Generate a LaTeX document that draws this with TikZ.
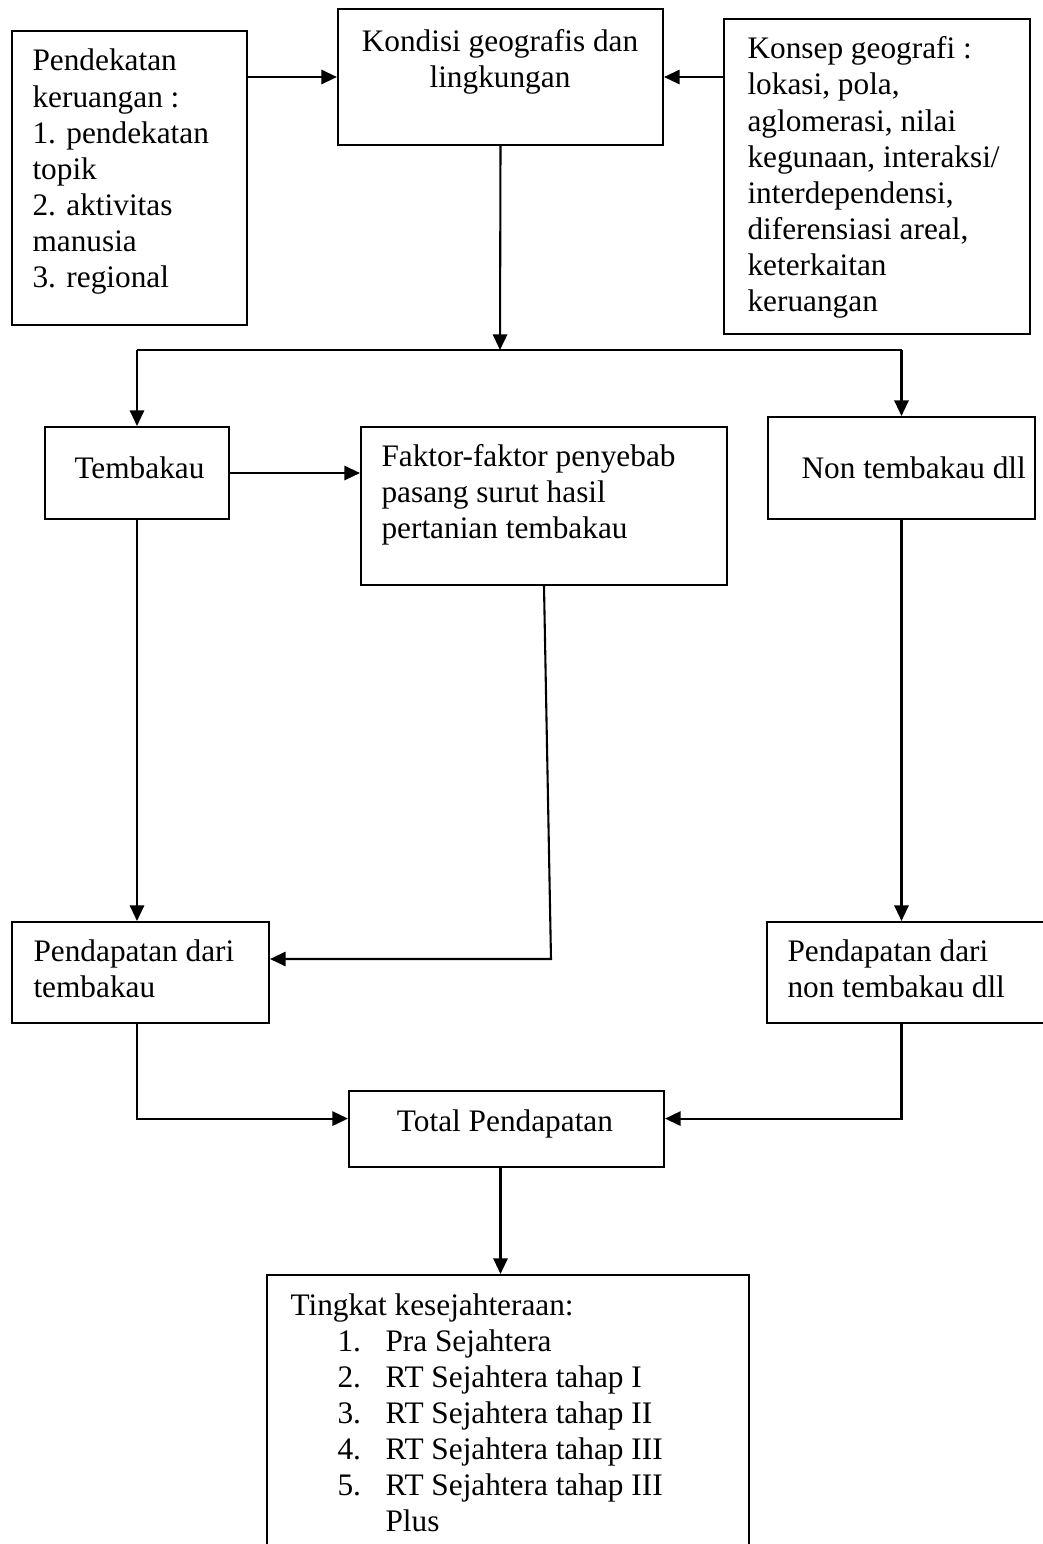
\documentclass[tikz,border=0pt]{standalone}
\usepackage{fontspec}
\setmainfont{Liberation Serif}
\usetikzlibrary{arrows.meta,fit}

\tikzset{
  box/.style={draw, line width=0.8pt, inner sep=0pt},
  txt/.style={anchor=base west, inner sep=0pt, align=left},
  arr/.style={line width=0.8pt, -{Triangle[length=6pt,width=5.5pt]}}
}

\begin{document}
\begin{tikzpicture}[x=0.3833pt, y=-0.3833pt, font=\fontsize{12}{13.8}\selectfont]
        \useasboundingbox (0,0) rectangle (1043,1544);
        \clip (0,0) rectangle (1043,1544);

        % boxes
        \node[box, fit={(12,31) (247,325)}] (pend) {};
        \node[box, fit={(338,9) (663,145)}] (kond) {};
        \node[box, fit={(724,19) (1030,334)}] (kons) {};

        \node[box, fit={(45,427) (229,519)}] (tem) {};
        \node[box, fit={(361,427) (727,585)}] (fak) {};
        \node[box, fit={(768,417) (1035,519)}] (non) {};

        \node[box, fit={(12,922) (269,1023)}] (pdt) {};
        \node[box, fit={(767,922) (1050,1023)}] (pdn) {};

        \node[box, fit={(349,1091) (664,1167)}] (tot) {};
        \node[box, fit={(267,1275) (749,1560)}] (ting) {};

        % texts (base = last line)
        \node[txt] (pend-t) at (32,287) {Pendekatan\\keruangan :\\1. pendekatan\\topik\\2. aktivitas\\manusia\\3. regional};
        \node[txt, align=center, anchor=base] (kond-t) at (500,87) {Kondisi geografis dan\\lingkungan};
        \node[txt] (kons-t) at (747,311) {Konsep geografi :\\lokasi, pola,\\aglomerasi, nilai\\kegunaan, interaksi/\\interdependensi,\\diferensiasi areal,\\keterkaitan\\keruangan};

        \node[txt] (tem-t) at (74,478) {Tembakau};
        \node[txt] (fak-t) at (381,538) {Faktor-faktor penyebab\\pasang surut hasil\\pertanian tembakau};
        \node[txt] (non-t) at (801,478) {Non tembakau dll};

        \node[txt] (pdt-t) at (33,997) {Pendapatan dari\\tembakau};
        \node[txt] (pdn-t) at (787,997) {Pendapatan dari\\non tembakau dll};

        \node[txt, anchor=base] (tot-t) at (505,1131) {Total Pendapatan};

        \node[txt] (ting-t) at (290,1315) {Tingkat kesejahteraan:};
        \node[txt] (ting-n) at (337,1495) {1.\\2.\\3.\\4.\\5.};
        \node[txt] (ting-i) at (385,1531) {Pra Sejahtera\\RT Sejahtera tahap I\\RT Sejahtera tahap II\\RT Sejahtera tahap III\\RT Sejahtera tahap III\\Plus};

        % connectors
        \coordinate (split) at (500,350);
        \coordinate (bend) at (551,959);

        \draw[arr] (pend.east |- kond.west) -- (kond.west);
        \draw[arr] (kons.west |- kond.east) -- (kond.east);
        \draw[arr] (kond.south) -- (split);
        \draw[line width=0.8pt] (tem.north |- split) -- (non.north |- split);
        \draw[arr] (tem.north |- split) -- (tem.north);
        \draw[arr] (non.north |- split) -- (non.north);

        \draw[arr] (tem.east) -- (tem.east -| fak.west);
        \draw[arr] (tem.south) -- (tem.south |- pdt.north);
        \draw[arr] (non.south) -- (non.south |- pdn.north);
        \draw[arr] (fak.south) -- (bend) -- (bend -| pdt.east);

        \draw[arr] (tem.south |- pdt.south) |- ([yshift=4pt]tot.west);
        \draw[arr] (non.south |- pdn.south) |- ([yshift=4pt]tot.east);
        \draw[arr] (kond.south |- tot.south) -- (kond.south |- ting.north);
    \end{tikzpicture}
\end{document}
